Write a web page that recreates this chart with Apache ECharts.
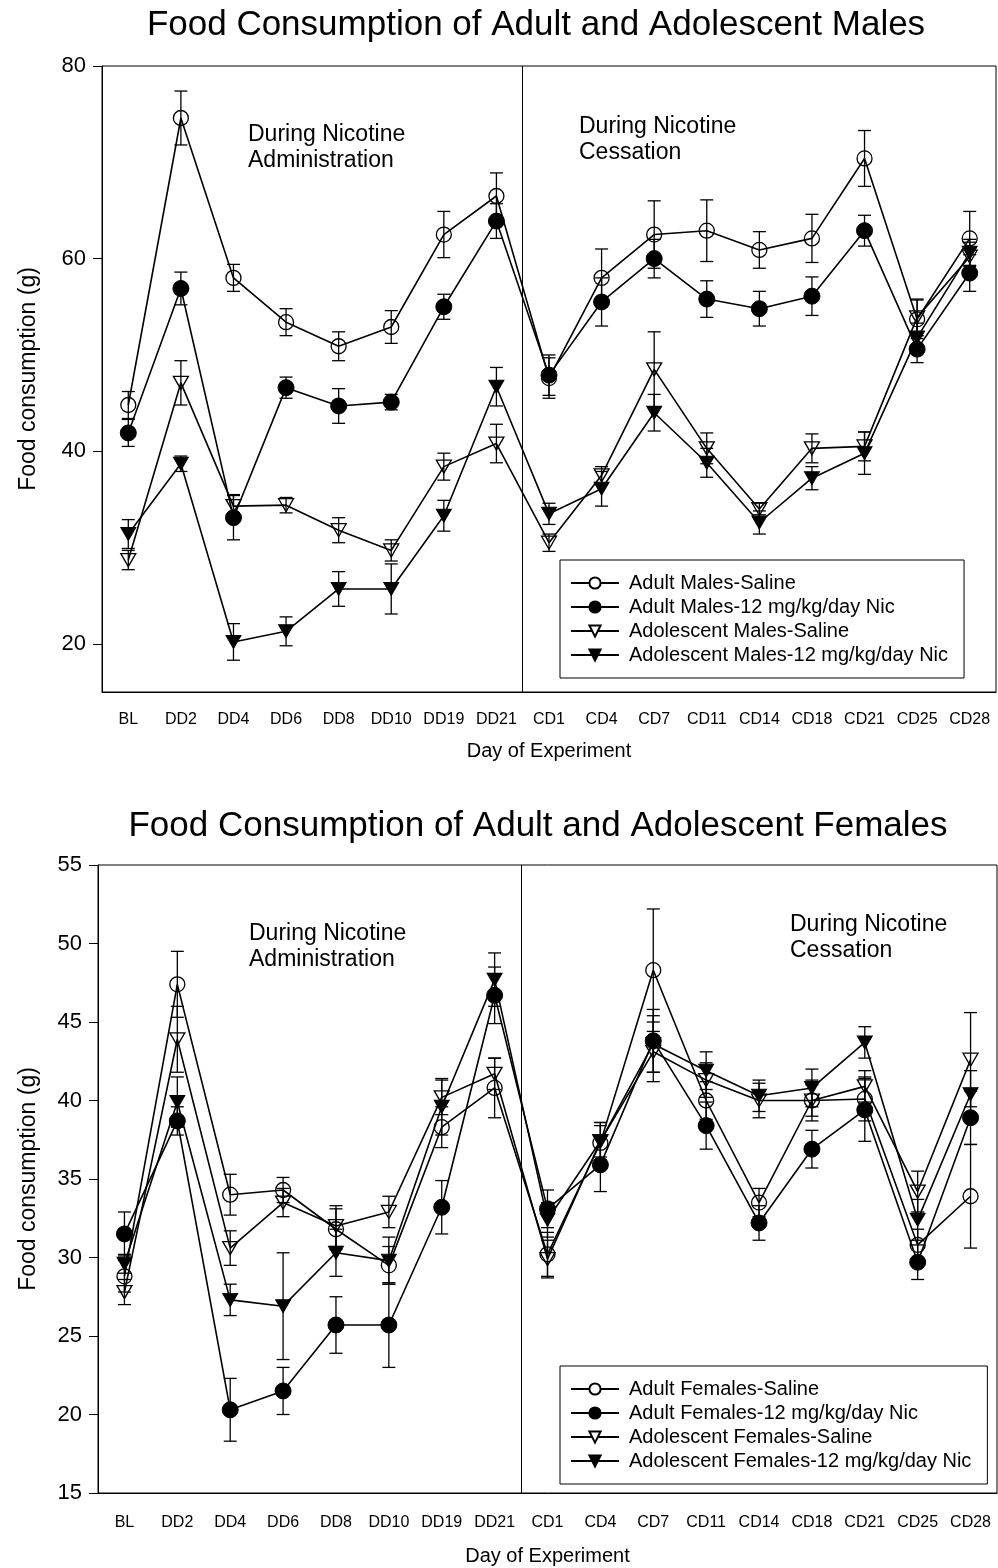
<!DOCTYPE html>
<html>
<head>
<meta charset="utf-8">
<script src="https://cdn.jsdelivr.net/npm/echarts@6.0.0/dist/echarts.min.js"></script>
<style>
  html, body { margin: 0; padding: 0; background: #fff; }
  #main { width: 998px; height: 1568px; }
</style>
</head>
<body>
<div id="main"></div>
<script>
// x categories
var days = ['BL', 'DD2', 'DD4', 'DD6', 'DD8', 'DD10', 'DD19', 'DD21',
            'CD1', 'CD4', 'CD7', 'CD11', 'CD14', 'CD18', 'CD21', 'CD25', 'CD28'];

// males (g), mean and error
var adultMaleSaline    = [44.8, 74.6, 58.0, 53.4, 50.9, 52.9, 62.5, 66.5, 47.6, 58.0, 62.5, 62.9, 60.9, 62.1, 70.4, 53.7, 62.1];
var adultMaleSalineErr = [1.4, 2.8, 1.4, 1.4, 1.5, 1.7, 2.4, 2.4, 2.1, 3.0, 3.5, 3.2, 1.9, 2.5, 2.9, 2.0, 2.8];
var adultMaleNic       = [41.9, 56.9, 33.1, 46.6, 44.7, 45.1, 55.0, 63.9, 47.9, 55.5, 60.0, 55.8, 54.8, 56.1, 62.9, 50.6, 58.5];
var adultMaleNicErr    = [1.4, 1.7, 2.3, 1.1, 1.8, 0.8, 1.3, 1.8, 2.1, 2.5, 2.0, 1.9, 1.8, 2.0, 1.6, 1.4, 1.9];
var adolMaleSaline     = [28.7, 47.1, 34.3, 34.4, 31.8, 29.7, 38.4, 40.8, 30.5, 37.5, 48.5, 40.3, 34.0, 40.3, 40.5, 53.9, 60.2];
var adolMaleSalineErr  = [1.0, 2.3, 1.2, 0.8, 1.3, 1.1, 1.4, 2.0, 0.9, 0.9, 3.9, 1.6, 0.6, 1.5, 1.5, 1.9, 1.5];
var adolMaleNic        = [31.4, 38.7, 20.2, 21.3, 25.7, 25.7, 33.3, 46.7, 33.5, 36.1, 44.0, 38.8, 32.6, 37.2, 39.8, 51.8, 60.6];
var adolMaleNicErr     = [1.5, 0.8, 1.9, 1.5, 1.8, 2.6, 1.6, 2.0, 1.1, 1.8, 1.9, 1.5, 1.2, 1.2, 2.2, 1.5, 1.4];

// females (g), mean and error
var adultFemSaline     = [28.8, 47.4, 34.0, 34.3, 31.8, 29.5, 38.3, 40.8, 30.2, 37.3, 48.3, 40.0, 33.5, 40.0, 40.1, 30.8, 33.9];
var adultFemSalineErr  = [1.0, 2.1, 1.3, 0.8, 1.3, 1.2, 1.3, 1.9, 1.4, 1.3, 3.9, 1.2, 0.9, 1.3, 1.4, 1.0, 3.3];
var adultFemNic        = [31.5, 38.7, 20.3, 21.5, 25.7, 25.7, 33.2, 46.7, 33.1, 35.9, 43.8, 38.4, 32.2, 36.9, 39.4, 29.7, 38.9];
var adultFemNicErr     = [1.4, 0.9, 2.0, 1.5, 1.8, 2.7, 1.7, 1.8, 1.2, 1.7, 2.0, 1.5, 1.1, 1.2, 2.0, 1.1, 1.7];
var adolFemSaline      = [27.8, 43.9, 30.6, 33.5, 32.0, 32.9, 40.2, 41.7, 29.9, 37.4, 43.1, 41.3, 40.0, 40.0, 40.9, 34.2, 42.6];
var adolFemSalineErr   = [0.8, 2.1, 1.1, 0.9, 1.3, 1.0, 1.1, 1.0, 1.2, 1.0, 1.9, 1.1, 1.1, 1.0, 1.0, 1.3, 3.0];
var adolFemNic         = [29.6, 39.9, 27.3, 26.9, 30.3, 29.8, 39.6, 47.7, 32.4, 37.4, 43.6, 41.9, 40.3, 40.8, 43.7, 32.4, 40.4];
var adolFemNicErr      = [0.6, 1.6, 1.0, 3.4, 1.5, 1.5, 1.8, 1.7, 1.1, 1.2, 1.8, 1.2, 1.0, 1.2, 1.0, 1.3, 1.5];

var maleTicks = [20, 40, 60, 80];
var phaseSplit = 7.5; // between DD21 and CD1

var FONT = '"Liberation Sans", Arial, Helvetica, sans-serif';
var TRI = 'path://M0,0L20,0L10,18Z';

var chart = echarts.init(document.getElementById('main'));

var markerStyles = {
  oc: { symbol: 'circle', size: 15, item: { color: 'rgba(0,0,0,0)', borderColor: '#000', borderWidth: 1.3 } },
  fc: { symbol: 'circle', size: 16, item: { color: '#000', borderColor: '#000', borderWidth: 1 } },
  ot: { symbol: TRI, size: [15, 13], item: { color: 'rgba(0,0,0,0)', borderColor: '#000', borderWidth: 1.3 } },
  ft: { symbol: TRI, size: [15, 13], item: { color: '#000', borderColor: '#000', borderWidth: 1 } }
};

function errData(vals, errs) {
  var res = [];
  for (var i = 0; i < vals.length; i++) {
    res.push([i, vals[i] - errs[i], vals[i] + errs[i]]);
  }
  return res;
}

function renderErr(params, api) {
  var x = api.value(0);
  var lo = api.coord([x, api.value(1)]);
  var hi = api.coord([x, api.value(2)]);
  var w = 6.5;
  var st = { stroke: '#000', lineWidth: 1.3 };
  return {
    type: 'group',
    children: [
      { type: 'line', shape: { x1: hi[0], y1: hi[1], x2: lo[0], y2: lo[1] }, style: st },
      { type: 'line', shape: { x1: hi[0] - w, y1: hi[1], x2: hi[0] + w, y2: hi[1] }, style: st },
      { type: 'line', shape: { x1: lo[0] - w, y1: lo[1], x2: lo[0] + w, y2: lo[1] }, style: st }
    ]
  };
}

var series = [];
function addGroup(name, vals, errs, kind, gi) {
  var m = markerStyles[kind];
  series.push({
    name: name + '-err',
    type: 'custom',
    xAxisIndex: gi * 2,
    yAxisIndex: gi,
    renderItem: renderErr,
    encode: { x: 0, y: [1, 2] },
    data: errData(vals, errs),
    silent: true,
    z: 2
  });
  series.push({
    name: name,
    type: 'line',
    xAxisIndex: gi * 2,
    yAxisIndex: gi,
    data: vals,
    symbol: m.symbol,
    symbolSize: m.size,
    showAllSymbol: true,
    lineStyle: { color: '#000', width: 1.6 },
    itemStyle: m.item,
    z: 3
  });
}

var maleNames = ['Adult Males-Saline', 'Adult Males-12 mg/kg/day Nic',
                 'Adolescent Males-Saline', 'Adolescent Males-12 mg/kg/day Nic'];
var femNames = ['Adult Females-Saline', 'Adult Females-12 mg/kg/day Nic',
                'Adolescent Females-Saline', 'Adolescent Females-12 mg/kg/day Nic'];

addGroup(maleNames[0], adultMaleSaline, adultMaleSalineErr, 'oc', 0);
addGroup(maleNames[1], adultMaleNic, adultMaleNicErr, 'fc', 0);
addGroup(maleNames[2], adolMaleSaline, adolMaleSalineErr, 'ot', 0);
addGroup(maleNames[3], adolMaleNic, adolMaleNicErr, 'ft', 0);

addGroup(femNames[0], adultFemSaline, adultFemSalineErr, 'oc', 1);
addGroup(femNames[1], adultFemNic, adultFemNicErr, 'fc', 1);
addGroup(femNames[2], adolFemSaline, adolFemSalineErr, 'ot', 1);
addGroup(femNames[3], adolFemNic, adolFemNicErr, 'ft', 1);

// vertical divider between administration and cessation
[0, 1].forEach(function (gi) {
  series.push({
    type: 'line',
    xAxisIndex: gi * 2 + 1,
    yAxisIndex: gi,
    data: [],
    markLine: {
      silent: true,
      symbol: ['none', 'none'],
      label: { show: false },
      lineStyle: { color: '#000', width: 1, type: 'solid' },
      data: [{ xAxis: phaseSplit }]
    }
  });
});

function catAxis(gi, gap, margin) {
  return {
    gridIndex: gi,
    type: 'category',
    data: days,
    boundaryGap: true,
    axisLine: { onZero: false, lineStyle: { color: '#000', width: 1 } },
    axisTick: { alignWithLabel: true, length: 9, lineStyle: { color: '#000', width: 1 } },
    axisLabel: { interval: 0, color: '#000', fontSize: 16, fontFamily: FONT, margin: margin },
    splitLine: { show: false },
    name: 'Day of Experiment',
    nameLocation: 'middle',
    nameGap: gap,
    nameTextStyle: { color: '#000', fontSize: 20, fontFamily: FONT }
  };
}
function hiddenAxis(gi) {
  return { gridIndex: gi, type: 'value', min: -0.5, max: days.length - 0.5, show: false };
}

function legendData(names) {
  return names.map(function (n, i) {
    return i % 2 === 0 ? { name: n, itemStyle: { color: '#fff' } } : { name: n };
  });
}

function legendOpt(names, top) {
  return {
    data: legendData(names), orient: 'vertical', left: 560, top: top,
    itemWidth: 48, itemHeight: 14, itemGap: 4, padding: [13, 16, 13, 10],
    borderColor: '#000', borderWidth: 1, backgroundColor: '#fff',
    selectedMode: false,
    textStyle: { fontSize: 20, lineHeight: 20, color: '#000', fontFamily: FONT, padding: [0, 0, 0, 5] }
  };
}

var annotStyle = { fill: '#000', font: '23px ' + FONT, lineHeight: 26 };

var option = {
  backgroundColor: '#fff',
  animation: false,
  title: [
    { text: 'Food Consumption of Adult and Adolescent Males', left: 536, top: 8, textAlign: 'center', padding: 0,
      textStyle: { fontSize: 35, fontWeight: 'normal', color: '#000', fontFamily: FONT } },
    { text: 'Food Consumption of Adult and Adolescent Females', left: 538, top: 809, textAlign: 'center', padding: 0,
      textStyle: { fontSize: 35, fontWeight: 'normal', color: '#000', fontFamily: FONT } }
  ],
  legend: [legendOpt(maleNames, 560), legendOpt(femNames, 1366)],
  grid: [
    { left: 102, top: 66, width: 894, height: 626, show: true, borderColor: '#000', borderWidth: 1,
      backgroundColor: 'transparent', outerBoundsMode: 'none', containLabel: false },
    { left: 98, top: 865, width: 899, height: 628, show: true, borderColor: '#000', borderWidth: 1,
      backgroundColor: 'transparent', outerBoundsMode: 'none', containLabel: false }
  ],
  xAxis: [catAxis(0, 49, 20), hiddenAxis(0), catAxis(1, 53, 22), hiddenAxis(1)],
  yAxis: [
    { gridIndex: 0, type: 'value', min: 15, max: 80,
      axisLine: { show: true, onZero: false, lineStyle: { color: '#000', width: 1 } },
      axisTick: { show: true, length: 9, customValues: maleTicks, lineStyle: { color: '#000' } },
      axisLabel: { customValues: maleTicks, color: '#000', fontSize: 22, fontFamily: FONT, margin: 16 },
      splitLine: { show: false },
      name: 'Food consumption (g)', nameLocation: 'middle', nameRotate: 90, nameGap: 62,
      nameTextStyle: { color: '#000', fontSize: 23, fontFamily: FONT } },
    { gridIndex: 1, type: 'value', min: 15, max: 55, interval: 5,
      axisLine: { show: true, onZero: false, lineStyle: { color: '#000', width: 1 } },
      axisTick: { show: true, length: 9, lineStyle: { color: '#000' } },
      axisLabel: { color: '#000', fontSize: 22, fontFamily: FONT, margin: 16 },
      splitLine: { show: false },
      name: 'Food consumption (g)', nameLocation: 'middle', nameRotate: 90, nameGap: 58,
      nameTextStyle: { color: '#000', fontSize: 23, fontFamily: FONT } }
  ],
  graphic: [
    { type: 'text', left: 248, top: 122, style: Object.assign({ text: 'During Nicotine\nAdministration' }, annotStyle) },
    { type: 'text', left: 579, top: 114, style: Object.assign({ text: 'During Nicotine\nCessation' }, annotStyle) },
    { type: 'text', left: 249, top: 921, style: Object.assign({ text: 'During Nicotine\nAdministration' }, annotStyle) },
    { type: 'text', left: 790, top: 912, style: Object.assign({ text: 'During Nicotine\nCessation' }, annotStyle) }
  ],
  series: series
};

chart.setOption(option);
</script>
</body>
</html>
